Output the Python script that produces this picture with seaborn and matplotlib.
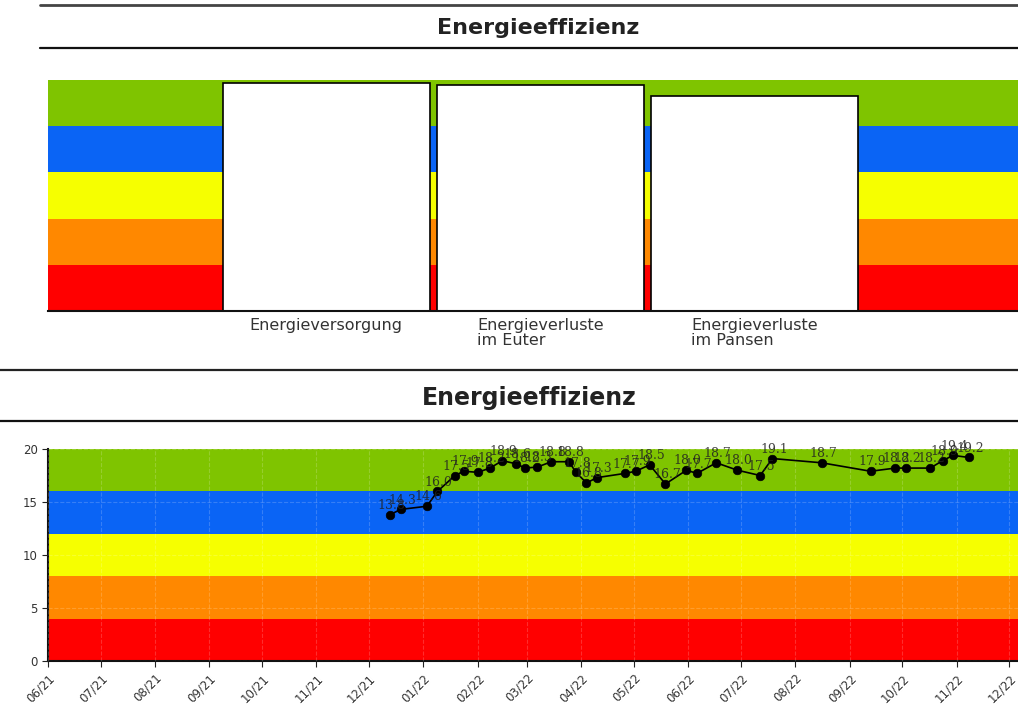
import pandas as pd
import numpy as np
import seaborn as sns
import matplotlib.pyplot as plt
import matplotlib.dates as mdates
from matplotlib.lines import Line2D

# top panel: three category bars
categories = ["Energieversorgung", "Energieverluste\nim Euter", "Energieverluste\nim Pansen"]
bar_values = [98.7, 97.8, 93.1]

# bottom panel: time series
dates = ["2021-12-13", "2021-12-19", "2022-01-03", "2022-01-09", "2022-01-19", "2022-01-24",
         "2022-02-01", "2022-02-08", "2022-02-15", "2022-02-23", "2022-02-28", "2022-03-07",
         "2022-03-15", "2022-03-25", "2022-03-29", "2022-04-04", "2022-04-10", "2022-04-26",
         "2022-05-02", "2022-05-10", "2022-05-19", "2022-05-31", "2022-06-06", "2022-06-17",
         "2022-06-29", "2022-07-12", "2022-07-19", "2022-08-16", "2022-09-13", "2022-09-27",
         "2022-10-03", "2022-10-17", "2022-10-24", "2022-10-30", "2022-11-08"]
values = [13.8, 14.3, 14.6, 16.0, 17.5, 17.9, 17.8, 18.2, 18.9, 18.6, 18.2, 18.3,
          18.8, 18.8, 17.8, 16.8, 17.3, 17.7, 17.9, 18.5, 16.7, 18.0, 17.7, 18.7,
          18.0, 17.5, 19.1, 18.7, 17.9, 18.2, 18.2, 18.2, 18.9, 19.4, 19.2]

band_colors = ["#ff0000", "#ff8800", "#f6ff00", "#0a64f5", "#7fc400"]
bar_bands = [0, 20, 40, 60, 80, 100]
line_bands = [0, 4, 8, 12, 16, 20]

sns.set_style("white")
plt.rcParams['font.family'] = ['DejaVu Sans']

W, H = 1018, 710
fig = plt.figure(figsize=(W / 100, H / 100), dpi=100)


def px_axes(x0, y_top, x1, y_bot):
    return fig.add_axes([x0 / W, 1 - y_bot / H, (x1 - x0) / W, (y_bot - y_top) / H])


def hline(y, x0, x1, lw, color):
    fig.add_artist(Line2D([x0 / W, x1 / W], [1 - y / H, 1 - y / H], lw=lw, color=color,
                          transform=fig.transFigure))


# headers
hline(5, 40, 1018, 2.0, "#444444")
hline(48, 40, 1018, 1.6, "#111111")
fig.text(538 / W, 1 - 28 / H, "Energieeffizienz", ha="center", va="center",
         fontsize=16, fontweight="bold", color="#222222")
hline(370, 0, 1018, 1.6, "#222222")
hline(421, 0, 1018, 1.6, "#111111")
fig.text(529 / W, 1 - 398 / H, "Energieeffizienz", ha="center", va="center",
         fontsize=17, fontweight="bold", color="#222222")

# ---- top panel ----
ax1 = px_axes(48, 80, 1018, 311)
for i in range(5):
    ax1.axhspan(bar_bands[i], bar_bands[i + 1], color=band_colors[i], lw=0, zorder=0)
df_bar = pd.DataFrame({"cat": categories, "val": bar_values})
sns.barplot(data=df_bar, x="cat", y="val", color="white", edgecolor="black",
            linewidth=1.2, width=0.97, saturation=1, ax=ax1, zorder=2)
ax1.set_xlim(-1.3, 3.23)
ax1.set_ylim(0, 100)
ax1.set_xlabel("")
ax1.set_ylabel("")
ax1.set_yticks([])
for s in ["top", "right", "left"]:
    ax1.spines[s].set_visible(False)
ax1.spines["bottom"].set_color("#111111")
ax1.spines["bottom"].set_linewidth(1.5)
ax1.tick_params(axis="x", direction="in", length=4, color="#333333", labelsize=11.5, pad=5,
                labelcolor="#333333")
for lab in ax1.get_xticklabels():
    lab.set_multialignment("left")
    lab.set_va("top")
    lab.set_linespacing(1.0)

# ---- bottom panel ----
ax2 = px_axes(48, 449, 1018, 661)
for i in range(5):
    ax2.axhspan(line_bands[i], line_bands[i + 1], color=band_colors[i], lw=0, zorder=0)
df = pd.DataFrame({"date": pd.to_datetime(dates), "value": values})
sns.lineplot(data=df, x="date", y="value", color="black", lw=1.2, ax=ax2, zorder=3)
sns.scatterplot(data=df, x="date", y="value", color="black", s=38, ax=ax2, zorder=4,
                edgecolor="black")
for d, v in zip(df["date"], df["value"]):
    ax2.annotate(f"{v:.1f}", (d, v), xytext=(1, 2), textcoords="offset points",
                 ha="center", va="bottom", fontsize=9, family="DejaVu Serif",
                 color="#222222", alpha=0.85, zorder=5)

ax2.set_xlim(pd.Timestamp("2021-06-01"), pd.Timestamp("2022-12-06"))
ax2.set_ylim(0, 20)
ax2.set_yticks([0, 5, 10, 15, 20])
ax2.xaxis.set_major_locator(mdates.MonthLocator())
ax2.xaxis.set_major_formatter(mdates.DateFormatter("%m/%y"))
ax2.grid(True, color="white", alpha=0.18, linestyle="--", lw=0.8)
ax2.set_axisbelow(False)
ax2.set_xlabel("")
ax2.set_ylabel("")
for s in ["top", "right"]:
    ax2.spines[s].set_visible(False)
for s in ["left", "bottom"]:
    ax2.spines[s].set_color("#111111")
    ax2.spines[s].set_linewidth(1.5)
ax2.tick_params(axis="both", direction="out", length=4, color="#222222",
                labelsize=8.5, labelcolor="#333333", bottom=True, left=True)
plt.setp(ax2.get_xticklabels(), rotation=45, ha="right", rotation_mode="anchor")

fig.savefig("out.png", dpi=100)
